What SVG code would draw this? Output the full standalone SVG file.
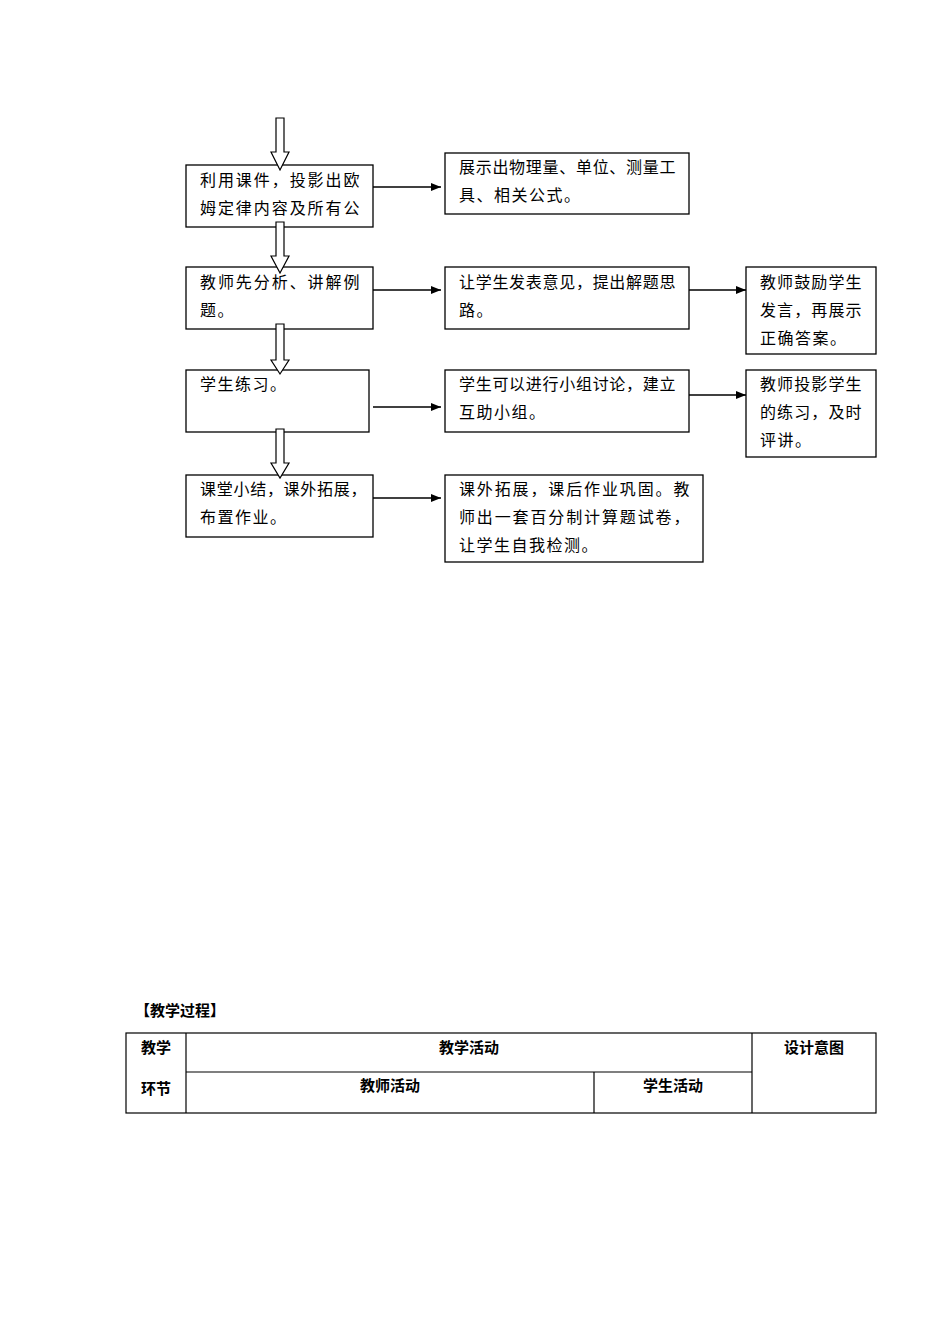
<svg xmlns="http://www.w3.org/2000/svg" width="950" height="1344" viewBox="0 0 950 1344">
<defs>
<style>
.box{fill:#fff;stroke:#000;stroke-width:1.3}
.t{font-family:"Noto Sans CJK SC","Liberation Serif",serif;font-size:16px;fill:#000;letter-spacing:1.5px}
.conn{stroke:#000;stroke-width:1.3;fill:none}
.hollow{fill:#fff;stroke:#000;stroke-width:1.2}
.tb{font-family:"Noto Sans CJK SC","Liberation Sans",sans-serif;font-size:15px;font-weight:bold;fill:#000;text-anchor:middle}
.tl{stroke:#000;stroke-width:1.2;fill:none}
</style>
<marker id="ah" markerWidth="10" markerHeight="8" refX="10" refY="4" orient="auto" markerUnits="userSpaceOnUse">
<path d="M0,0 L10,4 L0,8 Z" fill="#000"/>
</marker>
</defs>
<rect width="950" height="1344" fill="#fff"/>

<g id="nodeA">
<rect class="box" x="186" y="165" width="187" height="62"/>
<text class="t" x="200" y="186" textLength="161" lengthAdjust="spacing">利用课件，投影出欧</text>
<text class="t" x="200" y="214" textLength="161" lengthAdjust="spacing">姆定律内容及所有公</text>
</g>
<g id="nodeB">
<rect class="box" x="445" y="153" width="244" height="61"/>
<text class="t" x="459" y="173" textLength="218" lengthAdjust="spacing">展示出物理量、单位、测量工</text>
<text class="t" x="459" y="201">具、相关公式。</text>
</g>
<g id="nodeC">
<rect class="box" x="186" y="267" width="187" height="62"/>
<text class="t" x="200" y="288" textLength="161" lengthAdjust="spacing">教师先分析、讲解例</text>
<text class="t" x="200" y="316">题。</text>
</g>
<g id="nodeD">
<rect class="box" x="445" y="267" width="244" height="62"/>
<text class="t" x="459" y="288" textLength="218" lengthAdjust="spacing">让学生发表意见，提出解题思</text>
<text class="t" x="459" y="316">路。</text>
</g>
<g id="nodeE">
<rect class="box" x="746" y="267" width="130" height="87"/>
<text class="t" x="760" y="288" textLength="103" lengthAdjust="spacing">教师鼓励学生</text>
<text class="t" x="760" y="316" textLength="103" lengthAdjust="spacing">发言，再展示</text>
<text class="t" x="760" y="344">正确答案。</text>
</g>
<g id="nodeF">
<rect class="box" x="186" y="370" width="183" height="62"/>
<text class="t" x="200" y="390">学生练习。</text>
</g>
<g id="nodeG">
<rect class="box" x="445" y="370" width="244" height="62"/>
<text class="t" x="459" y="390" textLength="218" lengthAdjust="spacing">学生可以进行小组讨论，建立</text>
<text class="t" x="459" y="418">互助小组。</text>
</g>
<g id="nodeH">
<rect class="box" x="746" y="370" width="130" height="87"/>
<text class="t" x="760" y="390" textLength="103" lengthAdjust="spacing">教师投影学生</text>
<text class="t" x="760" y="418" textLength="103" lengthAdjust="spacing">的练习，及时</text>
<text class="t" x="760" y="446">评讲。</text>
</g>
<g id="nodeI">
<rect class="box" x="186" y="475" width="187" height="62"/>
<text class="t" x="200" y="495" textLength="168" lengthAdjust="spacing">课堂小结，课外拓展，</text>
<text class="t" x="200" y="523">布置作业。</text>
</g>
<g id="nodeJ">
<rect class="box" x="445" y="475" width="258" height="87"/>
<text class="t" x="459" y="495" textLength="232" lengthAdjust="spacing">课外拓展，课后作业巩固。教</text>
<text class="t" x="459" y="523" textLength="232" lengthAdjust="spacing">师出一套百分制计算题试卷，</text>
<text class="t" x="459" y="551">让学生自我检测。</text>
</g>

<g id="connectors">
<path class="hollow" d="M276,118 H284 V152 H289 L280,170 L271,152 H276 Z"/>
<path class="hollow" d="M276,222 H284 V256 H289 L280,273 L271,256 H276 Z"/>
<path class="hollow" d="M276,324 H284 V360 H289 L280,374 L271,360 H276 Z"/>
<path class="hollow" d="M276,429 H284 V463 H289 L280,478 L271,463 H276 Z"/>
<line class="conn" x1="373" y1="187" x2="441" y2="187" marker-end="url(#ah)"/>
<line class="conn" x1="373" y1="290" x2="441" y2="290" marker-end="url(#ah)"/>
<line class="conn" x1="689" y1="290" x2="746" y2="290" marker-end="url(#ah)"/>
<line class="conn" x1="373" y1="407" x2="441" y2="407" marker-end="url(#ah)"/>
<line class="conn" x1="689" y1="395" x2="746" y2="395" marker-end="url(#ah)"/>
<line class="conn" x1="373" y1="498" x2="441" y2="498" marker-end="url(#ah)"/>
</g>

<g id="table">
<text x="135" y="1016" font-family="'Noto Sans CJK SC','Liberation Sans',sans-serif" font-size="15" font-weight="bold" fill="#000">【教学过程】</text>
<rect class="tl" x="126" y="1033" width="750" height="80"/>
<line class="tl" x1="186" y1="1033" x2="186" y2="1113"/>
<line class="tl" x1="752" y1="1033" x2="752" y2="1113"/>
<line class="tl" x1="186" y1="1072" x2="752" y2="1072"/>
<line class="tl" x1="594" y1="1072" x2="594" y2="1113"/>
<text class="tb" x="156" y="1053">教学</text>
<text class="tb" x="156" y="1094">环节</text>
<text class="tb" x="469" y="1053">教学活动</text>
<text class="tb" x="814" y="1053">设计意图</text>
<text class="tb" x="390" y="1091">教师活动</text>
<text class="tb" x="673" y="1091">学生活动</text>
</g>
</svg>
